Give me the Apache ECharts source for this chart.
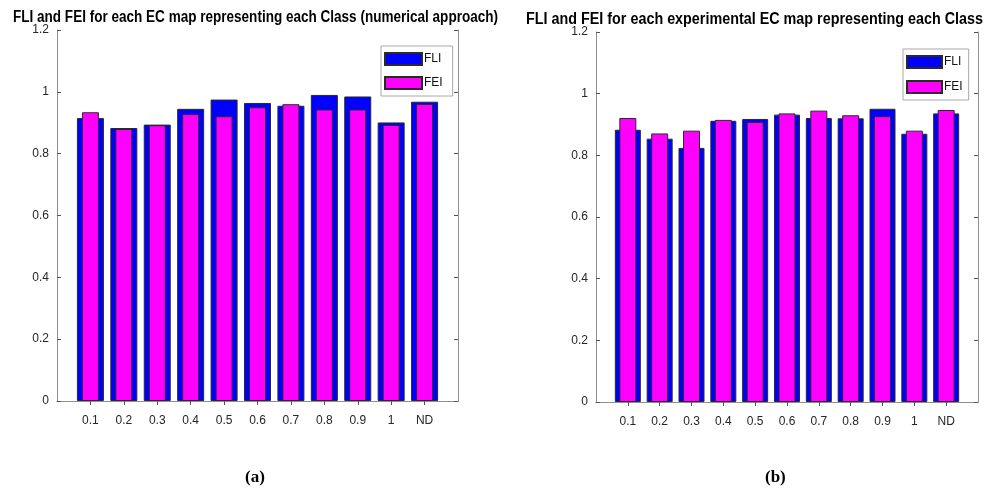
<!DOCTYPE html>
<html>
<head>
<meta charset="utf-8">
<style>
html,body{margin:0;padding:0;background:#fff;}
#main{width:1005px;height:491px;}
</style>
<script src="https://cdn.jsdelivr.net/npm/echarts@6/dist/echarts.min.js"></script>
</head>
<body>
<div id="main"></div>
<script>
// ---- data ----
var categories = ['0.1','0.2','0.3','0.4','0.5','0.6','0.7','0.8','0.9','1','ND'];
var numericalFLI = [0.915, 0.883, 0.894, 0.945, 0.975, 0.964, 0.955, 0.990, 0.985, 0.901, 0.968];
var numericalFEI = [0.934, 0.880, 0.892, 0.928, 0.921, 0.950, 0.960, 0.943, 0.943, 0.893, 0.961];
var experimentalFLI = [0.883, 0.854, 0.824, 0.912, 0.918, 0.932, 0.921, 0.920, 0.951, 0.870, 0.936];
var experimentalFEI = [0.921, 0.871, 0.880, 0.915, 0.908, 0.936, 0.945, 0.930, 0.927, 0.880, 0.947];
var yTicks = [0, 0.2, 0.4, 0.6, 0.8, 1, 1.2];
var titles = ['FLI and FEI for each EC map representing each Class (numerical approach)',
              'FLI and FEI for each experimental EC map representing each Class'];
var captions = ['(a)', '(b)'];

// ---- helpers ----
var axisData = [''].concat(categories).concat(['']);
function pad(arr){ return ['-'].concat(arr).concat(['-']); }
var SANS = '"Liberation Sans", Arial, sans-serif';
var axisGray = '#8f8f8f';
var labelColor = '#262626';

var mctx = document.createElement('canvas').getContext('2d');
function fitScale(text, font, target){
  mctx.font = font;
  return target / mctx.measureText(text).width;
}
var titleFont0 = 'bold 16px "Liberation Sans", Arial, sans-serif';
var titleFont1 = 'bold 16px "Liberation Sans", Arial, sans-serif';

function xAx(gi, pos, showLabel){
  return {
    type:'category', gridIndex:gi, position:pos, data:axisData, boundaryGap:false,
    axisLine:{show:true, lineStyle:{color:axisGray, width:1}},
    axisTick:{show:true, inside:true, length:4, lineStyle:{color:'#555'},
      interval:function(i, v){ return v !== ''; }},
    axisLabel:{show:showLabel, color:labelColor, fontFamily:SANS, fontSize:12, margin:14,
      interval:0},
    splitLine:{show:false}
  };
}
function yAx(gi, pos, showLabel){
  return {
    type:'value', gridIndex:gi, position:pos, min:yTicks[0], max:yTicks[yTicks.length-1], interval:0.2,
    axisLine:{show:true, lineStyle:{color:axisGray, width:1}},
    axisTick:{show:true, inside:true, length:4, lineStyle:{color:'#555'}},
    axisLabel:{show:showLabel, color:labelColor, fontFamily:SANS, fontSize:12, margin:8},
    splitLine:{show:false}
  };
}
var border = {borderColor:'#2a2a2a', borderWidth:1};

var chart = echarts.init(document.getElementById('main'), null, {renderer:'canvas'});
chart.setOption({
  animation:false,
  backgroundColor:'#ffffff',
  grid:[
    {left:57, right:547, top:30, bottom:90},
    {left:596, right:27, top:32, bottom:89}
  ],
  legend:[
    {data:['FLI','FEI'], orient:'vertical', left:381, top:46, padding:[6,10,6,3], itemGap:10,
     itemWidth:37, itemHeight:12, icon:'rect', borderColor:'#a8a8a8', borderWidth:1, backgroundColor:'#fff',
     textStyle:{fontFamily:SANS, fontSize:12, color:'#111', padding:[0,0,0,-3]}},
    {data:['FLI','FEI'], orient:'vertical', left:903, top:49, padding:[6,6,6,3], itemGap:11,
     itemWidth:35, itemHeight:12, icon:'rect', borderColor:'#a8a8a8', borderWidth:1, backgroundColor:'#fff',
     textStyle:{fontFamily:SANS, fontSize:12, color:'#111', padding:[0,0,0,-3]}}
  ],
  xAxis:[ xAx(0,'bottom',true), xAx(0,'top',false), xAx(1,'bottom',true), xAx(1,'top',false) ],
  yAxis:[ yAx(0,'left',true), yAx(0,'right',false), yAx(1,'left',true), yAx(1,'right',false) ],
  series:[
    {name:'FLI', type:'bar', xAxisIndex:0, yAxisIndex:0, data:pad(numericalFLI), barWidth:27,
     itemStyle:Object.assign({color:'#0000ff'}, border)},
    {name:'FEI', type:'bar', xAxisIndex:1, yAxisIndex:0, data:pad(numericalFEI), barWidth:17,
     itemStyle:Object.assign({color:'#ff00ff'}, border)},
    {name:'FLI', type:'bar', xAxisIndex:2, yAxisIndex:2, data:pad(experimentalFLI), barWidth:26,
     itemStyle:Object.assign({color:'#0000ff'}, border)},
    {name:'FEI', type:'bar', xAxisIndex:3, yAxisIndex:2, data:pad(experimentalFEI), barWidth:17,
     itemStyle:Object.assign({color:'#ff00ff'}, border)}
  ],
  graphic:[
    {type:'text', x:13, y:18, scaleX:fitScale(titles[0], titleFont0, 485), z:10,
     style:{text:titles[0], font:titleFont0, fill:'#000', align:'left', verticalAlign:'middle'}},
    {type:'text', x:526, y:20, scaleX:fitScale(titles[1], titleFont1, 457), z:10,
     style:{text:titles[1], font:titleFont1, fill:'#000', align:'left', verticalAlign:'middle'}},
    {type:'text', left:245, top:469, style:{text:captions[0], font:'bold 17px "Liberation Serif", "DejaVu Serif", serif', fill:'#000'}},
    {type:'text', left:765, top:469, style:{text:captions[1], font:'bold 17px "Liberation Serif", "DejaVu Serif", serif', fill:'#000'}}
  ]
});
</script>
</body>
</html>
